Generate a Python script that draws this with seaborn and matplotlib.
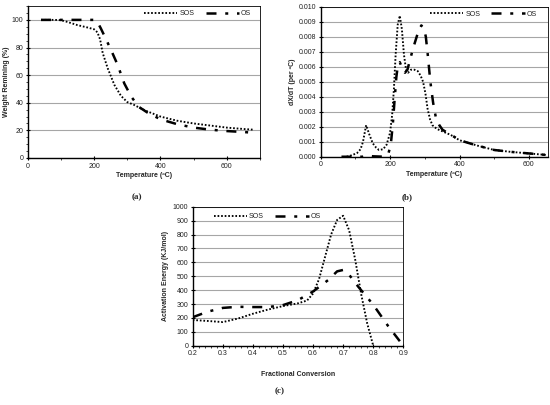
import matplotlib
matplotlib.use("Agg")
import matplotlib.pyplot as plt
from matplotlib.ticker import MultipleLocator, FormatStrFormatter
import seaborn as sns
import pandas as pd

# ---------------- data ----------------
# (a) TGA weight remaining
T_sos_a = [40, 80, 100, 120, 150, 180, 200, 210, 218, 226, 241, 261, 281, 300, 320, 340, 360, 400, 450, 500, 550, 600, 650, 680]
W_sos_a = [100, 100, 99.8, 98.5, 96.2, 94.5, 93.2, 91, 86, 76, 65, 53, 45, 40.5, 38.5, 36, 33.8, 30, 27, 25, 23.5, 22, 21, 20.5]
T_os_a = [40, 100, 150, 200, 210, 220, 230, 251, 271, 291, 312, 335, 360, 400, 450, 500, 550, 600, 650, 680]
W_os_a = [100, 100, 100, 100, 98.5, 94, 89, 78.3, 67.4, 54, 44.4, 37, 33, 28, 24.5, 22, 20.5, 19.5, 18.8, 18.3]

# (b) DTG (values in 1e-3 per degC)
T_sos_b = [75, 90, 105, 115, 122, 131, 140, 150, 160, 168, 180, 190, 200, 206, 211, 216, 222, 228, 234, 240, 246, 252, 260, 270, 280, 288, 295, 302, 308, 315, 322, 335, 350, 375, 400, 450, 500, 550, 600, 650]
V_sos_b = [0.0, 0.1, 0.25, 0.5, 1.0, 2.1, 1.5, 0.9, 0.6, 0.45, 0.5, 0.8, 1.6, 2.8, 4.5, 6.8, 8.8, 9.4, 8.5, 6.8, 5.8, 5.6, 5.8, 5.8, 5.7, 5.4, 5.0, 4.2, 3.2, 2.5, 2.1, 1.85, 1.7, 1.45, 1.1, 0.75, 0.45, 0.32, 0.22, 0.12]
T_os_b = [60, 120, 135, 150, 185, 195, 202, 208, 213, 218, 223, 228, 235, 243, 250, 258, 266, 274, 282, 290, 297, 303, 309, 316, 324, 332, 342, 351, 365, 380, 400, 450, 500, 550, 600, 650]
V_os_b = [0, 0, 0.07, 0.03, 0, 0.2, 0.8, 2.2, 3.8, 5.3, 6.2, 6.3, 5.9, 5.6, 5.8, 6.5, 7.2, 7.8, 8.4, 8.75, 8.6, 8.0, 6.7, 5.0, 3.6, 2.6, 2.1, 1.8, 1.6, 1.4, 1.1, 0.75, 0.45, 0.32, 0.22, 0.12]

# (c) activation energy
X_sos_c = [0.2, 0.25, 0.3, 0.35, 0.4, 0.45, 0.5, 0.55, 0.58, 0.6, 0.62, 0.64, 0.66, 0.68, 0.7, 0.72, 0.74, 0.76, 0.78, 0.8]
E_sos_c = [185, 178, 170, 195, 230, 260, 285, 305, 325, 375, 480, 640, 800, 905, 935, 830, 620, 370, 160, 0]
X_os_c = [0.2, 0.25, 0.3, 0.35, 0.4, 0.45, 0.5, 0.55, 0.6, 0.65, 0.68, 0.7, 0.72, 0.75, 0.8, 0.85, 0.9]
E_os_c = [205, 245, 272, 280, 278, 278, 292, 328, 390, 472, 535, 545, 510, 425, 295, 140, 0]

series_names = ["SOS", "OS"]
panel_labels = ["(a)", "(b)", "(c)"]

# ---------------- style ----------------
sns.set_theme(style="white")
plt.rcParams["font.family"] = ["Liberation Sans", "DejaVu Sans"]
plt.rcParams["axes.linewidth"] = 0.8

DOT = (0, (0.9, 1.0))
LW_DOT = 1.35
DASHDOT = (0, (4, 3.5, 1.2, 3.5))
LW_DD = 1.8
TICK_FS = 5
LAB_FS = 5

fig = plt.figure(figsize=(5.5, 4.05), dpi=100)
ax_a = fig.add_axes([0.0504, 0.6099, 0.4223, 0.3751])
ax_b = fig.add_axes([0.583, 0.613, 0.4134, 0.3705])
ax_c = fig.add_axes([0.3504, 0.1464, 0.3829, 0.3432])


def df(x, y, name):
    return pd.DataFrame({"x": x, "y": y, "s": name})


def style_ax(ax):
    ax.grid(axis="y", color="#a6a6a6", linewidth=0.8)
    ax.grid(axis="x", visible=False)
    ax.set_axisbelow(True)
    for sp in ax.spines.values():
        sp.set_color("black")
        sp.set_linewidth(0.6)
    ax.spines["left"].set_linewidth(1.0)
    ax.spines["bottom"].set_linewidth(1.0)
    ax.tick_params(axis="both", which="major", labelsize=TICK_FS, length=2.5,
                   width=0.8, direction="inout", colors="black", pad=2,
                   bottom=True, left=True)
    ax.tick_params(axis="both", which="minor", length=1.5, width=0.6,
                   direction="out", bottom=True, left=True)
    ax.tick_params(axis="both", labelcolor="#222222")


def draw(ax, d1, d2):
    sns.lineplot(data=d1, x="x", y="y", ax=ax, color="black", linewidth=LW_DOT,
                 linestyle=DOT, sort=False, label=series_names[0])
    sns.lineplot(data=d2, x="x", y="y", ax=ax, color="black", linewidth=LW_DD,
                 linestyle=DASHDOT, sort=False, label=series_names[1])


def add_legend(ax, **kw):
    leg = ax.legend(ncol=2, frameon=False, fontsize=TICK_FS, handlelength=4.8,
                    columnspacing=1.6, handletextpad=0.3, borderaxespad=0.2, **kw)
    for t in leg.get_texts():
        t.set_color("#222222")


# (a)
draw(ax_a, df(T_sos_a, W_sos_a, "SOS"), df(T_os_a, W_os_a, "OS"))
ax_a.set_xlim(0, 700)
ax_a.set_ylim(0, 110)
ax_a.set_yticks([0, 20, 40, 60, 80, 100])
ax_a.set_xticks([0, 200, 400, 600])
ax_a.xaxis.set_minor_locator(MultipleLocator(100))
ax_a.yaxis.set_minor_locator(MultipleLocator(5))
ax_a.set_xlabel("Temperature (ºC)", fontsize=LAB_FS, fontweight="bold", labelpad=2)
ax_a.set_ylabel("Weight Remining (%)", fontsize=LAB_FS, fontweight="bold", labelpad=1)
style_ax(ax_a)
add_legend(ax_a, loc="upper right", bbox_to_anchor=(0.98, 1.0))

# (b)
draw(ax_b, df(T_sos_b, [v / 1000 for v in V_sos_b], "SOS"),
     df(T_os_b, [v / 1000 for v in V_os_b], "OS"))
ax_b.set_xlim(0, 655)
ax_b.set_ylim(0, 0.010)
ax_b.set_yticks([i / 1000 for i in range(0, 11)])
ax_b.yaxis.set_major_formatter(FormatStrFormatter("%.3f"))
ax_b.set_xticks([0, 200, 400, 600])
ax_b.xaxis.set_minor_locator(MultipleLocator(100))
ax_b.set_xlabel("Temperature (ºC)", fontsize=LAB_FS, fontweight="bold", labelpad=2)
ax_b.set_ylabel("dX/dT (per ºC)", fontsize=LAB_FS, fontweight="bold", labelpad=2)
style_ax(ax_b)
add_legend(ax_b, loc="upper right", bbox_to_anchor=(0.97, 1.0))

# (c)
draw(ax_c, df(X_sos_c, E_sos_c, "SOS"), df(X_os_c, E_os_c, "OS"))
ax_c.set_xlim(0.2, 0.9)
ax_c.set_ylim(0, 1000)
ax_c.set_yticks(list(range(0, 1001, 100)))
ax_c.set_xticks([0.2, 0.3, 0.4, 0.5, 0.6, 0.7, 0.8, 0.9])
ax_c.xaxis.set_major_formatter(FormatStrFormatter("%.1f"))
ax_c.xaxis.set_minor_locator(MultipleLocator(0.02))
ax_c.set_xlabel("Fractional Conversion", fontsize=LAB_FS, fontweight="bold", labelpad=10)
ax_c.set_ylabel("Activation Energy (KJ/mol)", fontsize=LAB_FS, fontweight="bold", labelpad=3)
style_ax(ax_c)
add_legend(ax_c, loc="upper left", bbox_to_anchor=(0.08, 0.985))

# panel labels
for (x, y), t in zip([(137 / 550, 1 - 197 / 405), (407 / 550, 1 - 197 / 405), (280 / 550, 1 - 391 / 405)], panel_labels):
    fig.text(x, y, t, ha="center", va="center", fontsize=6.5, fontweight="bold",
             family=["Liberation Serif", "DejaVu Serif"])

fig.savefig("out.png", dpi=100)
